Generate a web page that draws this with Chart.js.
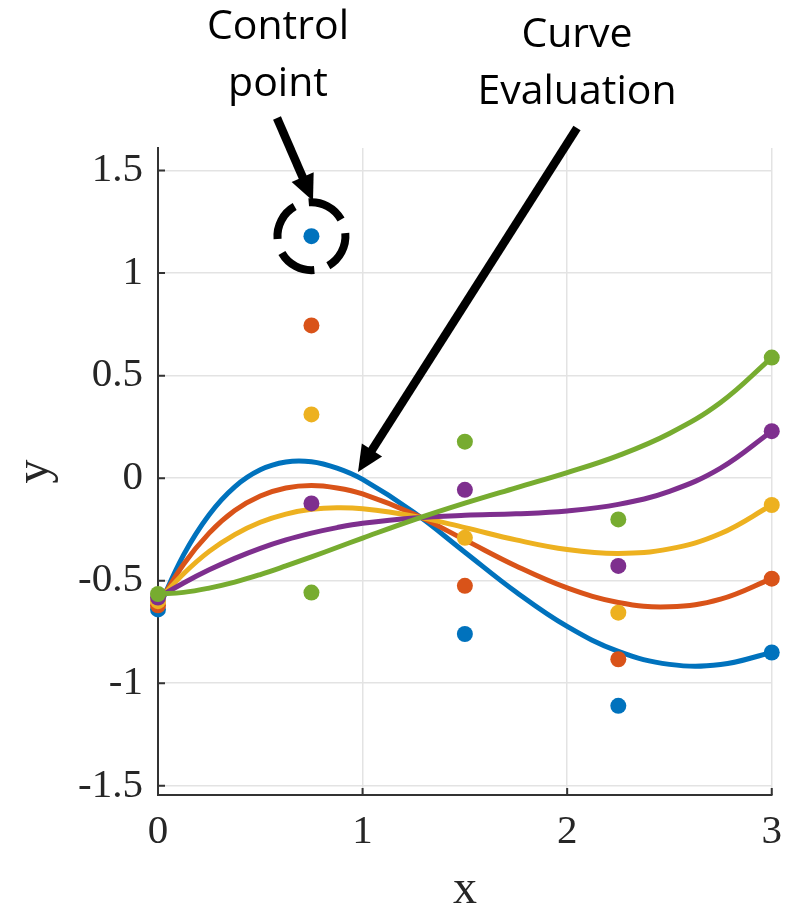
<!DOCTYPE html>
<html>
<head>
<meta charset="utf-8">
<script src="https://cdn.jsdelivr.net/npm/chart.js@4.4.1/dist/chart.umd.min.js"></script>
<style>
  body { margin: 0; background: #fff; }
  canvas { display: block; }
</style>
</head>
<body>
<canvas id="curveChart" width="795" height="906"></canvas>
<script>
// x positions where the curves were evaluated
const curveX = [0, 0.125, 0.25, 0.375, 0.5, 0.625, 0.75, 0.875, 1, 1.25, 1.5, 1.75, 2, 2.25, 2.5, 2.75, 3];
const curveBlue   = [-0.64, -0.374, -0.178, -0.042, 0.041, 0.079, 0.080, 0.049, -0.006, -0.166, -0.361, -0.555, -0.723, -0.845, -0.908, -0.909, -0.85];
const curveOrange = [-0.62, -0.420, -0.268, -0.158, -0.087, -0.048, -0.036, -0.048, -0.077, -0.175, -0.301, -0.428, -0.535, -0.606, -0.627, -0.590, -0.49];
const curveYellow = [-0.60, -0.466, -0.357, -0.275, -0.215, -0.175, -0.152, -0.144, -0.149, -0.185, -0.241, -0.301, -0.348, -0.367, -0.345, -0.270, -0.131];
const curvePurple = [-0.582, -0.511, -0.447, -0.391, -0.342, -0.301, -0.268, -0.241, -0.220, -0.194, -0.181, -0.174, -0.160, -0.128, -0.064, 0.049, 0.229];
const curveGreen  = [-0.565, -0.557, -0.536, -0.507, -0.470, -0.428, -0.384, -0.338, -0.292, -0.203, -0.122, -0.047, 0.027, 0.110, 0.218, 0.369, 0.588];

// control points
const ctrlX = [0, 0.75, 1.5, 2.25, 3];
const ctrlBlue   = [-0.64, 1.18, -0.76, -1.11, -0.85];
const ctrlOrange = [-0.62, 0.745, -0.525, -0.883, -0.49];
const ctrlYellow = [-0.60, 0.311, -0.291, -0.656, -0.131];
const ctrlPurple = [-0.582, -0.123, -0.057, -0.428, 0.229];
const ctrlGreen  = [-0.565, -0.558, 0.178, -0.201, 0.588];

const xTicks = [0, 1, 2, 3];
const yTicks = [-1.5, -1, -0.5, 0, 0.5, 1, 1.5];

const colors = ['#0072BD', '#D95319', '#EDB120', '#7E2F8E', '#77AC30'];
const axisColor = '#333333';
const tickFont = { family: '"Liberation Serif", "DejaVu Serif", serif', size: 41 };

const curves = [curveBlue, curveOrange, curveYellow, curvePurple, curveGreen];
const ctrls = [ctrlBlue, ctrlOrange, ctrlYellow, ctrlPurple, ctrlGreen];

function toPoints(xs, ys) {
    return xs.map((x, i) => ({ x: x, y: ys[i] }));
}

let datasets = [];
curves.forEach((ys, i) => {
    datasets.push({
        type: 'line',
        data: toPoints(curveX, ys),
        borderColor: colors[i],
        borderWidth: 5,
        pointRadius: 0,
        tension: 0.4,
        fill: false,
        clip: false,
        order: 10 - i
    });
});
ctrls.forEach((ys, i) => {
    datasets.push({
        type: 'scatter',
        data: toPoints(ctrlX, ys),
        backgroundColor: colors[i],
        borderWidth: 0,
        pointRadius: 8,
        clip: false,
        order: 5 - i
    });
});

function drawArrow(ctx, x1, y1, x2, y2) {
    const ang = Math.atan2(y2 - y1, x2 - x1);
    const head = 26, half = 12;
    const c = Math.cos(ang), s = Math.sin(ang);
    const bx = x2 - head * c, by = y2 - head * s;
    ctx.lineWidth = 8.5;
    ctx.lineCap = 'butt';
    ctx.beginPath();
    ctx.moveTo(x1, y1);
    ctx.lineTo(bx + 2 * c, by + 2 * s);
    ctx.stroke();
    ctx.beginPath();
    ctx.moveTo(x2, y2);
    ctx.lineTo(bx + half * s, by - half * c);
    ctx.lineTo(bx - half * s, by + half * c);
    ctx.closePath();
    ctx.fill();
}

// small inward tick marks on the left and bottom axes
const innerTicks = {
    id: 'innerTicks',
    beforeDatasetsDraw(chart) {
        const ctx = chart.ctx;
        const area = chart.chartArea;
        ctx.save();
        ctx.strokeStyle = axisColor;
        ctx.lineWidth = 2;
        ctx.beginPath();
        yTicks.forEach(v => {
            const py = chart.scales.y.getPixelForValue(v);
            ctx.moveTo(area.left, py);
            ctx.lineTo(area.left + 7, py);
        });
        xTicks.forEach(v => {
            const px = chart.scales.x.getPixelForValue(v);
            ctx.moveTo(px, area.bottom);
            ctx.lineTo(px, area.bottom - 7);
        });
        ctx.stroke();
        ctx.restore();
    }
};

// callout labels, arrows and the dashed ring
const callouts = {
    id: 'callouts',
    afterDraw(chart) {
        const ctx = chart.ctx;
        ctx.save();
        ctx.fillStyle = '#000';
        ctx.strokeStyle = '#000';
        ctx.font = '41px "Open Sans", "Noto Sans", sans-serif';
        ctx.textAlign = 'center';
        ctx.textBaseline = 'alphabetic';
        ctx.fillText('Control', 278, 39);
        ctx.fillText('point', 278, 96);
        ctx.fillText('Curve', 577, 47);
        ctx.fillText('Evaluation', 577, 104);

        drawArrow(ctx, 277, 118, 313, 201);
        drawArrow(ctx, 577, 128, 358, 472);

        const cx = chart.scales.x.getPixelForValue(ctrlX[1]);
        const cy = chart.scales.y.getPixelForValue(ctrlBlue[1]);
        const start = -5 * Math.PI / 180;
        ctx.lineWidth = 8;
        ctx.setLineDash([38.6, 14.8]);
        ctx.beginPath();
        ctx.arc(cx, cy, 34, start, start + 2 * Math.PI);
        ctx.stroke();
        ctx.restore();
    }
};

const config = {
    type: 'scatter',
    data: { datasets: datasets },
    options: {
        responsive: false,
        animation: false,
        events: [],
        layout: { padding: { top: 148, right: 22, left: 0, bottom: 0 } },
        plugins: {
            legend: { display: false },
            tooltip: { enabled: false }
        },
        scales: {
            x: {
                type: 'linear',
                min: 0,
                max: 3,
                afterBuildTicks: scale => { scale.ticks = xTicks.map(v => ({ value: v })); },
                afterFit: scale => { scale.height = 111; },
                grid: { color: '#e3e3e3', lineWidth: 1.5, drawTicks: false },
                border: { color: axisColor, width: 2 },
                ticks: {
                    font: tickFont,
                    color: '#262626',
                    padding: 13,
                    maxRotation: 0,
                    callback: v => String(v)
                },
                title: {
                    display: true,
                    text: 'x',
                    color: '#262626',
                    font: { family: tickFont.family, size: 48, lineHeight: 1 },
                    padding: { top: 0, bottom: -8 }
                }
            },
            y: {
                type: 'linear',
                min: -1.545,
                max: 1.61,
                afterBuildTicks: scale => { scale.ticks = yTicks.map(v => ({ value: v })); },
                afterFit: scale => { scale.width = 158; },
                grid: { color: '#e3e3e3', lineWidth: 1.5, drawTicks: false },
                border: { color: axisColor, width: 2 },
                ticks: {
                    font: tickFont,
                    color: '#262626',
                    padding: 15,
                    callback: v => String(v)
                },
                title: {
                    display: true,
                    text: 'y',
                    color: '#262626',
                    font: { family: tickFont.family, size: 48, lineHeight: 1 },
                    padding: { top: 11.5, bottom: 0 }
                }
            }
        }
    },
    plugins: [innerTicks, callouts]
};

const curveChart = new Chart(document.getElementById('curveChart').getContext('2d'), config);
</script>
</body>
</html>
